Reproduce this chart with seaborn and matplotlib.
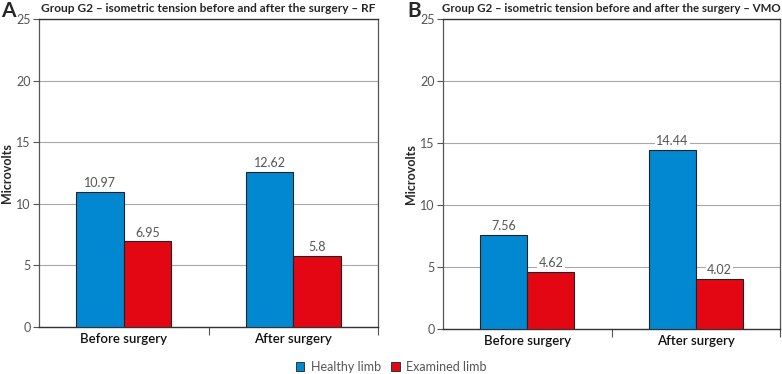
import matplotlib
matplotlib.use("Agg")
import matplotlib.pyplot as plt
import seaborn as sns
import pandas as pd

categories = ["Before surgery", "After surgery"]
series = ["Healthy limb", "Examined limb"]
rf_healthy = [10.97, 12.62]
rf_examined = [6.95, 5.8]
vmo_healthy = [7.56, 14.44]
vmo_examined = [4.62, 4.02]
titles = ["Group G2 \u2013 isometric tension before and after the surgery \u2013 RF",
          "Group G2 \u2013 isometric tension before and after the surgery \u2013 VMO"]
panel_letters = ["A", "B"]
yticks = [0, 5, 10, 15, 20, 25]

colors = {"Healthy limb": "#0288d1", "Examined limb": "#e30613"}

sns.set_theme(style="white")
plt.rcParams['font.family'] = ['Lato', 'DejaVu Sans']

def make_df(h, e):
    rows = []
    for c, v in zip(categories, h):
        rows.append({"cat": c, "series": "Healthy limb", "val": v})
    for c, v in zip(categories, e):
        rows.append({"cat": c, "series": "Examined limb", "val": v})
    return pd.DataFrame(rows)

W, H = 782, 374
fig = plt.figure(figsize=(W / 100, H / 100), dpi=100)
positions = [[39 / W, (H - 327) / H, 339 / W, 308 / H],
             [443 / W, (H - 329) / H, 337 / W, 310 / H]]
letter_x = [1, 407]
title_sizes = [8.6, 8.25]
data = [(rf_healthy, rf_examined), (vmo_healthy, vmo_examined)]

for i, (pos, (h, e)) in enumerate(zip(positions, data)):
    ax = fig.add_axes(pos)
    df = make_df(h, e)
    sns.barplot(data=df, x="cat", y="val", hue="series", hue_order=series,
                palette=colors, saturation=1, width=0.56, edgecolor="#222222",
                linewidth=0.8, ax=ax, legend=False, zorder=3)
    ax.set_ylim(0, 25)
    ax.set_xlim(-0.5, 1.5)
    ax.set_yticks(yticks)
    ax.yaxis.grid(True, color="#a8a8a8", linewidth=0.8, zorder=0)
    ax.set_axisbelow(True)
    for s in ["left", "right"]:
        ax.spines[s].set_color("#555555")
        ax.spines[s].set_linewidth(0.9)
    for s in ["top", "bottom"]:
        ax.spines[s].set_color("#333333")
        ax.spines[s].set_linewidth(1.0)
    ax.tick_params(axis="y", left=True, length=4, width=0.8, color="#555555",
                   labelsize=9, labelcolor="#555555", pad=2)
    ax.tick_params(axis="x", which="major", length=0, labelsize=9.5,
                   labelcolor="#111111", pad=4)
    ax.set_xticks([0.5, 1.5], minor=True)
    ax.tick_params(axis="x", which="minor", bottom=True, length=6, width=0.8,
                   color="#555555")
    for lbl in ax.get_xticklabels():
        lbl.set_fontweight("semibold")
    ax.set_xlabel("")
    ax.set_ylabel("Microvolts", fontsize=9, fontweight="bold", labelpad=2)
    for cont in ax.containers:
        ax.bar_label(cont, labels=[f"{v:g}" for v in cont.datavalues],
                     padding=2, fontsize=9, color="#555555",
                     bbox=dict(facecolor="white", edgecolor="none", pad=1))
    ax.set_title(titles[i], fontsize=title_sizes[i], fontweight="bold", pad=5)
    fig.text(letter_x[i] / W, 0.998, panel_letters[i], fontsize=15,
             fontweight="bold", va="top", ha="left")

handles = [plt.Rectangle((0, 0), 1, 1, facecolor=colors[s], edgecolor="#222222",
                         linewidth=0.6) for s in series]
fig.legend(handles, series, loc="center", bbox_to_anchor=(0.5, 1 - 367 / H),
           ncol=2, frameon=False, fontsize=9, handlelength=0.7, handleheight=0.7,
           columnspacing=0.8, handletextpad=0.5, labelcolor="#555555")

fig.savefig("out.png", dpi=100)
